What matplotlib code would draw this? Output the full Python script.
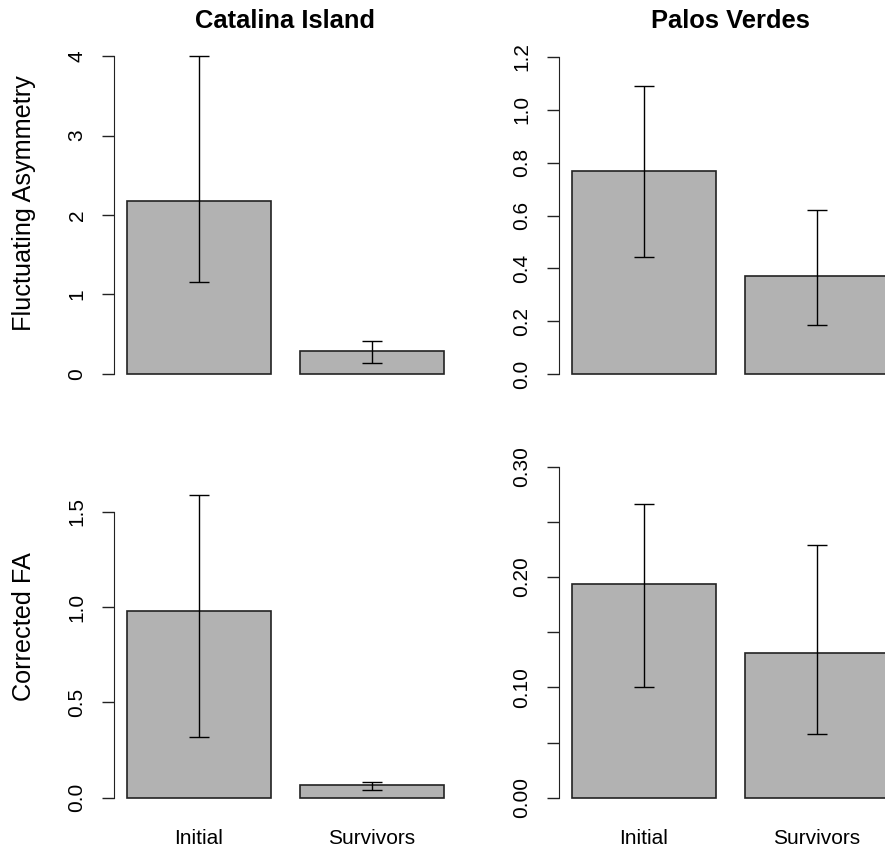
import matplotlib.pyplot as plt
import numpy as np

plt.rcParams.update({"font.family": "sans-serif", "font.sans-serif": ["Liberation Sans"]})

groups = ["Initial", "Survivors"]
sites = ["Catalina Island", "Palos Verdes"]
measures = ["Fluctuating Asymmetry", "Corrected FA"]

# means and interval limits (lo, hi) per panel
cat_fa = [2.18, 0.29]
cat_fa_lo = [1.16, 0.14]
cat_fa_hi = [4.00, 0.41]

pv_fa = [0.770, 0.371]
pv_fa_lo = [0.443, 0.184]
pv_fa_hi = [1.090, 0.620]

cat_cfa = [0.981, 0.067]
cat_cfa_lo = [0.320, 0.040]
cat_cfa_hi = [1.586, 0.082]

pv_cfa = [0.194, 0.131]
pv_cfa_lo = [0.100, 0.058]
pv_cfa_hi = [0.266, 0.229]

W, H = 885, 849
fig = plt.figure(figsize=(W / 100, H / 100), dpi=100)

def box(x0, x1, y0, y1):
    # pixel box -> figure fraction
    return [x0 / W, 1 - y1 / H, (x1 - x0) / W, (y1 - y0) / H]

panels = [
    # mean, lo, hi, axes box, ylim, ticks, ticklabels
    (cat_fa, cat_fa_lo, cat_fa_hi, box(114.3, 456.5, 43.3, 386.7), (-0.16, 4.16),
     [0, 1, 2, 3, 4], ["0", "1", "2", "3", "4"]),
    (pv_fa, pv_fa_lo, pv_fa_hi, box(559.3, 901.5, 43.3, 386.7), (-0.048, 1.252),
     [0, 0.2, 0.4, 0.6, 0.8, 1.0, 1.2], ["0.0", "0.2", "0.4", "0.6", "0.8", "1.0", "1.2"]),
    (cat_cfa, cat_cfa_lo, cat_cfa_hi, box(114.3, 456.5, 466, 810), (-0.065, 1.74),
     [0, 0.5, 1.0, 1.5], ["0.0", "0.5", "1.0", "1.5"]),
    (pv_cfa, pv_cfa_lo, pv_cfa_hi, box(559.3, 901.5, 466, 810), (-0.0111, 0.3005),
     [0, 0.05, 0.10, 0.15, 0.20, 0.25, 0.30], ["0.00", "", "0.10", "", "0.20", "", "0.30"]),
]

xpos = np.array([0.7, 1.9])

for i, (mean, lo, hi, pos, ylim, yt, ytl) in enumerate(panels):
    ax = fig.add_axes(pos)
    mean = np.array(mean)
    yerr = [mean - np.array(lo), np.array(hi) - mean]
    ax.bar(xpos, mean, width=1.0, color="#b2b2b2", edgecolor="#222222", linewidth=1.2)
    ax.errorbar(xpos, mean, yerr=yerr, fmt="none", ecolor="black", elinewidth=1.0,
                capsize=7.2, capthick=1.0)
    ax.set_xlim(0.112, 2.488)
    ax.set_ylim(*ylim)
    ax.set_yticks(yt)
    ax.set_yticklabels(ytl, rotation=90, va="center")
    ax.tick_params(axis="y", length=9, width=1.0, pad=11, labelsize=15, color="#222222")
    for s in ["top", "right", "bottom"]:
        ax.spines[s].set_visible(False)
    ax.spines["left"].set_bounds(yt[0], yt[-1])
    ax.spines["left"].set_color("#222222")
    if i >= 2:
        ax.set_xticks(xpos)
        ax.set_xticklabels(groups)
        ax.tick_params(axis="x", length=0, pad=14, labelsize=15)
    else:
        ax.set_xticks([])

fig.text(285.4 / W, 1 - 28.3 / H, sites[0], ha="center", va="baseline",
         fontsize=18.4, fontweight="bold")
fig.text(730.4 / W, 1 - 28.3 / H, sites[1], ha="center", va="baseline",
         fontsize=18.4, fontweight="bold")
fig.text(24 / W, 1 - 203 / H, measures[0], rotation=90, ha="center", va="center", fontsize=18.2)
fig.text(24 / W, 1 - 627 / H, measures[1], rotation=90, ha="center", va="center", fontsize=18.2)

fig.savefig("out.png", dpi=100)
